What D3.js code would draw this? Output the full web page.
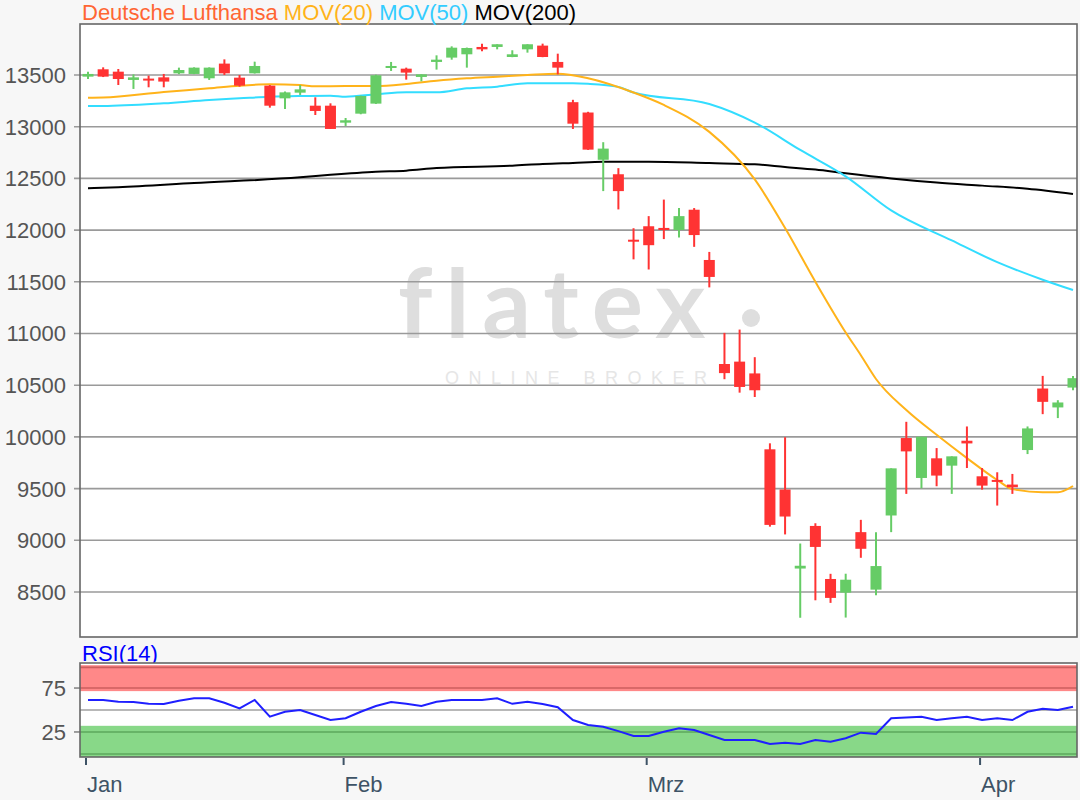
<!DOCTYPE html>
<html>
<head>
<meta charset="utf-8">
<script src="https://cdn.jsdelivr.net/npm/d3@7"></script>
<style>
body { margin: 0; background: #f7f7f7; }
svg { display: block; font-family: "Liberation Sans", Arial, sans-serif; }
</style>
</head>
<body>
<svg></svg>
<script>
// trading days shown (09.01.2020 - 09.04.2020)
var dates = [
  "2020-01-09","2020-01-10","2020-01-13","2020-01-14","2020-01-15","2020-01-16","2020-01-17","2020-01-20","2020-01-21","2020-01-22",
  "2020-01-23","2020-01-24","2020-01-27","2020-01-28","2020-01-29","2020-01-30","2020-01-31",
  "2020-02-03","2020-02-04","2020-02-05","2020-02-06","2020-02-07","2020-02-10","2020-02-11","2020-02-12","2020-02-13","2020-02-14",
  "2020-02-17","2020-02-18","2020-02-19","2020-02-20","2020-02-21","2020-02-24","2020-02-25","2020-02-26","2020-02-27","2020-02-28",
  "2020-03-02","2020-03-03","2020-03-04","2020-03-05","2020-03-06","2020-03-09","2020-03-10","2020-03-11","2020-03-12","2020-03-13",
  "2020-03-16","2020-03-17","2020-03-18","2020-03-19","2020-03-20","2020-03-23","2020-03-24","2020-03-25","2020-03-26","2020-03-27",
  "2020-03-30","2020-03-31",
  "2020-04-01","2020-04-02","2020-04-03","2020-04-06","2020-04-07","2020-04-08","2020-04-09"
];

var open  = [13484,13555,13532,13452,13465,13477,13516,13510,13468,13610,13474,13516,13397,13274,13329,13203,13203,
             13039,13126,13223,13571,13561,13481,13626,13668,13700,13771,13771,13674,13748,13784,13626,13237,13137,12680,12540,
             11907,12037,12021,12001,12197,11711,10705,10728,10614,9880,9491,8727,9139,8626,8494,9079,8523,9240,9989,9603,
             9793,9722,9963,9619,9584,9539,9873,10468,10285,10477];
var high  = [13532,13574,13558,13506,13494,13510,13571,13574,13574,13651,13500,13629,13403,13340,13403,13284,13226,
             13084,13300,13503,13626,13571,13506,13690,13777,13765,13803,13797,13739,13797,13803,13706,13260,13144,12850,12599,
             12018,12135,12295,12213,12213,11789,11006,11038,10771,9938,9997,8969,9165,8676,8677,9198,9079,9696,10146,10002,
             9892,9812,10101,9699,9658,9642,10101,10590,10355,10590];
var low   = [13461,13480,13403,13365,13381,13381,13508,13508,13452,13500,13387,13514,13184,13171,13307,13113,12978,
             13007,13120,13220,13539,13455,13439,13552,13648,13571,13729,13748,13672,13716,13672,13506,12978,12775,12377,12200,
             11717,11619,11913,11929,11838,11446,10558,10428,10386,9132,9057,8251,8420,8395,8253,8831,8468,9079,9449,9503,
             9523,9449,9699,9490,9336,9449,9834,10220,10182,10452];
var close = [13510,13484,13461,13477,13452,13436,13548,13571,13571,13516,13397,13587,13203,13332,13361,13152,12978,
             13062,13297,13497,13587,13523,13506,13648,13764,13761,13748,13797,13700,13797,13674,13571,13029,12778,12788,12377,
             11890,11854,12001,12135,11952,11547,10617,10483,10451,9149,9230,8754,8936,8443,8619,8918,8751,9696,9860,10002,
             9626,9812,9937,9529,9568,9513,10082,10339,10333,10568];

// moving averages: [candle index, value]
var ma20 = [[0,13280],[1,13282],[5,13336],[8,13371],[10,13397],[12,13410],[14,13403],[15,13390],[17,13394],[19,13394],
            [21,13413],[23,13445],[25,13468],[27,13484],[29,13500],[31,13512],[33,13468],[36,13330],[38,13210],[41,12950],
            [44,12490],[46,12020],[48,11500],[50,11010],[51,10790],[52,10560],[54,10260],[56,10020],[58,9795],[60,9583],
            [61,9495],[63,9464],[64,9464],[65,9525]];
var ma50 = [[0,13200],[1,13200],[5,13226],[8,13258],[10,13274],[12,13290],[14,13297],[16,13300],[17,13290],[19,13313],
            [21,13332],[23,13332],[25,13371],[27,13387],[29,13420],[32,13420],[33,13415],[35,13385],[36,13330],[41,13220],
            [44,13040],[47,12775],[50,12520],[53,12190],[57,11900],[60,11690],[63,11520],[65,11420]];
var ma200 = [[0,12405],[2,12415],[7,12455],[14,12510],[16,12535],[19,12565],[21,12575],[23,12600],[28,12623],[30,12640],
             [32,12650],[34,12660],[37,12662],[41,12648],[44,12636],[46,12610],[48,12585],[50,12549],[53,12500],[56,12460],
             [59,12430],[62,12400],[65,12350]];

var rsi = [61.4,61.4,59.4,59,57,56.8,60.6,63.3,63.3,58.3,51.9,61.4,42.4,48,50,44.3,38.6,
           40.6,48,54.5,59,57,54.5,59.4,61.4,61.4,61.4,63.3,57,59.4,56.8,53.1,38.6,33,31,26,
           20.5,20.5,25.3,29.2,27.3,21.6,15.9,15.9,15.9,11.4,12.8,11.4,15.9,14,17.8,24.2,22.7,40.6,41.5,42.4,
           38.6,40.6,42.4,38.6,40.6,38.6,48,51.5,50,53.8];

var priceTicks = [8500,9000,9500,10000,10500,11000,11500,12000,12500,13000,13500];
var rsiTicks = [25,75];
var monthNames = ["Jan","Feb","Mrz","Apr"];

var width = 1080, height = 800, fs = 22;
var svg = d3.select("svg").attr("width", width).attr("height", height);

var plot = {left: 80, right: 1077, top: 24, bottom: 637};
var rsiBox = {top: 663, bottom: 757};

var x = d3.scalePoint().domain(d3.range(dates.length)).range([88, 1073]);
var y = d3.scaleLinear().domain([8065, 13993]).range([plot.bottom, plot.top]);
var yr = d3.scaleLinear().domain([-3.5, 103.5]).range([rsiBox.bottom, rsiBox.top]);

var up = "#66cc66", down = "#ff3333";

svg.append("rect").attr("width", width).attr("height", height).attr("fill", "#f7f7f7");

svg.append("defs").append("clipPath").attr("id", "clip")
  .append("rect")
    .attr("x", plot.left).attr("y", plot.top)
    .attr("width", plot.right - plot.left).attr("height", plot.bottom - plot.top);

// main panel
svg.append("rect")
    .attr("x", plot.left).attr("y", plot.top)
    .attr("width", plot.right - plot.left).attr("height", plot.bottom - plot.top)
    .attr("fill", "#fff");

// watermark
var wm = svg.append("g").attr("fill", "#dedede");
wm.append("text")
    .attr("x", 398).attr("y", 338)
    .attr("font-family", "Lato, sans-serif")
    .attr("font-weight", 700)
    .attr("font-size", 96)
    .attr("letter-spacing", 13)
    .text("flatex");
wm.append("circle").attr("cx", 751).attr("cy", 318).attr("r", 9);
wm.append("text")
    .attr("x", 445).attr("y", 384)
    .attr("font-size", 18)
    .attr("letter-spacing", 9.5)
    .attr("fill", "#e6e6e6")
    .text("ONLINE BROKER");

// grid + y axis
svg.append("g").selectAll("line")
  .data(priceTicks).enter().append("line")
    .attr("x1", plot.left - 6).attr("x2", plot.right)
    .attr("y1", function(d) { return y(d); })
    .attr("y2", function(d) { return y(d); })
    .attr("stroke", "#9a9a9a")
    .attr("stroke-width", 1.6);

svg.append("g").selectAll("text")
  .data(priceTicks).enter().append("text")
    .attr("x", 66)
    .attr("y", function(d) { return y(d) + 8; })
    .attr("text-anchor", "end")
    .attr("font-size", fs)
    .attr("fill", "#555")
    .text(function(d) { return d; });

var g = svg.append("g").attr("clip-path", "url(#clip)");

// moving averages
function maLine(data, color) {
  var line = d3.line()
    .x(function(d) { return x(d[0]); })
    .y(function(d) { return y(d[1]); })
    .curve(d3.curveMonotoneX);
  g.append("path")
    .datum(data)
    .attr("fill", "none")
    .attr("stroke", color)
    .attr("stroke-width", 2)
    .attr("d", line);
}
maLine(ma200, "#000");
maLine(ma50, "#33ddff");
maLine(ma20, "#ffb31a");

// candles
var candles = g.append("g").selectAll("g")
  .data(d3.range(dates.length)).enter().append("g")
    .attr("fill", function(i) { return close[i] >= open[i] ? up : down; })
    .attr("stroke", function(i) { return close[i] >= open[i] ? up : down; });

candles.append("line")
    .attr("x1", function(i) { return x(i); })
    .attr("x2", function(i) { return x(i); })
    .attr("y1", function(i) { return y(high[i]); })
    .attr("y2", function(i) { return y(low[i]); })
    .attr("stroke-width", 2);

candles.append("rect")
    .attr("x", function(i) { return x(i) - 5.5; })
    .attr("width", 11)
    .attr("y", function(i) { return y(Math.max(open[i], close[i])); })
    .attr("height", function(i) { return Math.max(2, Math.abs(y(open[i]) - y(close[i]))); })
    .attr("stroke", "none");

svg.append("rect")
    .attr("x", plot.left).attr("y", plot.top)
    .attr("width", plot.right - plot.left).attr("height", plot.bottom - plot.top)
    .attr("fill", "none").attr("stroke", "#666").attr("stroke-width", 1.6);

// legend
var legend = svg.append("text").attr("x", 82).attr("y", 20).attr("font-size", fs);
legend.append("tspan").attr("fill", "#ff6633").text("Deutsche Lufthansa ");
legend.append("tspan").attr("fill", "#ffb31a").text("MOV(20) ");
legend.append("tspan").attr("fill", "#33ccff").text("MOV(50) ");
legend.append("tspan").attr("fill", "#000").text("MOV(200)");

// RSI panel
svg.append("text").attr("x", 82).attr("y", 661).attr("font-size", fs).attr("fill", "#0000ff").text("RSI(14)");

svg.append("rect")
    .attr("x", plot.left).attr("y", rsiBox.top)
    .attr("width", plot.right - plot.left).attr("height", rsiBox.bottom - rsiBox.top)
    .attr("fill", "#fff");

var bands = svg.append("g");
bands.append("rect")
    .attr("x", plot.left).attr("width", plot.right - plot.left)
    .attr("y", yr(101)).attr("height", yr(71.5) - yr(101))
    .attr("fill", "#ff8888");
bands.append("rect")
    .attr("x", plot.left).attr("width", plot.right - plot.left)
    .attr("y", yr(32)).attr("height", yr(-3.5) - yr(32))
    .attr("fill", "#88d888");

function hline(v, color) {
  svg.append("line")
    .attr("x1", plot.left).attr("x2", plot.right)
    .attr("y1", yr(v)).attr("y2", yr(v))
    .attr("stroke", color).attr("stroke-width", 1.6);
}
hline(98.5, "#cc5e5e");
hline(75, "#cc5e5e");
hline(50, "#a0a0a0");
hline(25, "#5ca85c");
hline(0, "#5ca85c");

svg.append("g").selectAll("line")
  .data(rsiTicks).enter().append("line")
    .attr("x1", plot.left - 6).attr("x2", plot.left)
    .attr("y1", function(d) { return yr(d); })
    .attr("y2", function(d) { return yr(d); })
    .attr("stroke", "#888").attr("stroke-width", 1.6);

svg.append("g").selectAll("text")
  .data(rsiTicks).enter().append("text")
    .attr("x", 66)
    .attr("y", function(d) { return yr(d) + 8; })
    .attr("text-anchor", "end")
    .attr("font-size", fs)
    .attr("fill", "#555")
    .text(function(d) { return d; });

svg.append("path")
    .datum(rsi)
    .attr("fill", "none")
    .attr("stroke", "#1f1fff")
    .attr("stroke-width", 2)
    .attr("d", d3.line()
      .x(function(d, i) { return x(i); })
      .y(function(d) { return yr(d); }));

svg.append("rect")
    .attr("x", plot.left).attr("y", rsiBox.top)
    .attr("width", plot.right - plot.left).attr("height", rsiBox.bottom - rsiBox.top)
    .attr("fill", "none").attr("stroke", "#666").attr("stroke-width", 1.6);

// month ticks at first trading day of each month
var monthStarts = d3.range(dates.length).filter(function(i) {
  return i === 0 || dates[i].slice(5, 7) !== dates[i - 1].slice(5, 7);
});

var xAxis = svg.append("g").attr("transform", "translate(0," + rsiBox.bottom + ")");
xAxis.selectAll("line")
  .data(monthStarts).enter().append("line")
    .attr("x1", function(i) { return x(i) - 2; })
    .attr("x2", function(i) { return x(i) - 2; })
    .attr("y1", 1).attr("y2", 8)
    .attr("stroke", "#3e5366").attr("stroke-width", 2);
xAxis.selectAll("text")
  .data(monthStarts).enter().append("text")
    .attr("x", function(i) { return x(i) - 1; })
    .attr("y", 35)
    .attr("font-size", fs)
    .attr("fill", "#3e5366")
    .text(function(i) { return monthNames[+dates[i].slice(5, 7) - 1]; });
</script>
</body>
</html>
